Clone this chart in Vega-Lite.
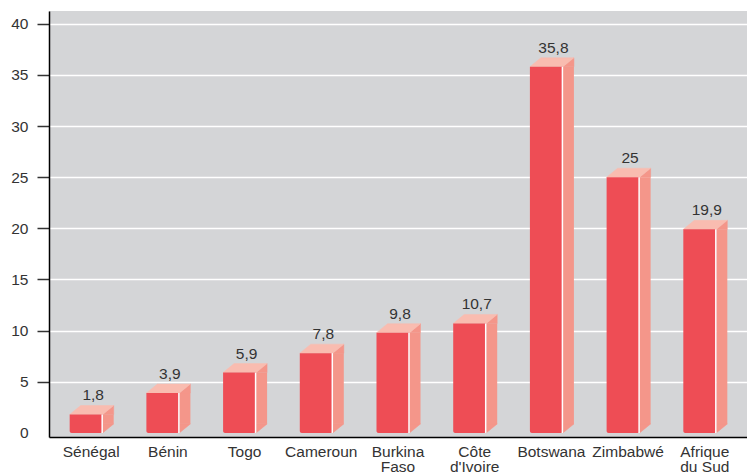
{
  "$schema": "https://vega.github.io/schema/vega-lite/v6.json",
  "width": 698,
  "height": 426,
  "autosize": {"type": "none"},
  "padding": {"left": 49, "top": 11, "right": 0, "bottom": 35},
  "background": "white",
  "view": {"fill": "#d4d5d7", "stroke": null},
  "config": {
    "font": "Liberation Sans",
    "locale": {
      "number": {"decimal": ",", "thousands": " ", "grouping": [3], "currency": ["", " €"]}
    }
  },
  "data": {
    "values": [
      {"pays": "Sénégal", "taux": 1.8},
      {"pays": "Bénin", "taux": 3.9},
      {"pays": "Togo", "taux": 5.9},
      {"pays": "Cameroun", "taux": 7.8},
      {"pays": "Burkina\nFaso", "taux": 9.8},
      {"pays": "Côte\nd'Ivoire", "taux": 10.7},
      {"pays": "Botswana", "taux": 35.8},
      {"pays": "Zimbabwé", "taux": 25},
      {"pays": "Afrique\ndu Sud", "taux": 19.9}
    ]
  },
  "encoding": {
    "x": {
      "field": "pays",
      "type": "nominal",
      "sort": null,
      "scale": {"paddingInner": 0, "paddingOuter": 0.05},
      "axis": {
        "title": null,
        "labelAngle": 0,
        "ticks": false,
        "tickSize": 0,
        "domainColor": "#000000",
        "domainWidth": 1.5,
        "labelPadding": 7,
        "labelFontSize": 15.5,
        "labelColor": "#333333",
        "labelLineHeight": 15,
        "labelLimit": 0,
        "labelExpr": "split(datum.label, '\\n')"
      }
    },
    "y": {
      "field": "taux",
      "type": "quantitative",
      "scale": {"domain": [-0.4, 41.25], "nice": false, "zero": false},
      "axis": {
        "title": null,
        "values": [0, 5, 10, 15, 20, 25, 30, 35, 40],
        "grid": true,
        "gridColor": "#ffffff",
        "gridWidth": 1.5,
        "gridOpacity": {"condition": {"test": "datum.value === 0", "value": 0}, "value": 1},
        "tickSize": 12,
        "tickColor": "#333333",
        "tickWidth": 1.5,
        "tickOpacity": {"condition": {"test": "datum.value === 0", "value": 0}, "value": 1},
        "domainColor": "#000000",
        "domainWidth": 1.5,
        "labelPadding": 9,
        "labelFontSize": 15.5,
        "labelColor": "#333333"
      }
    }
  },
  "layer": [
    {
      "mark": {"type": "bar", "width": 11, "xOffset": 17, "y2Offset": -9, "fill": "#f4968a"},
      "encoding": {"y2": {"datum": 0}}
    },
    {
      "mark": {"type": "point", "shape": "M11.5,0 L22.5,-9 L22.5,0 Z", "size": 4, "filled": true, "fill": "#f4968a", "stroke": "#f4968a", "strokeWidth": 0.5, "opacity": 1}
    },
    {
      "mark": {"type": "point", "shape": "M11.5,-9 L22.5,-9 L11.5,0 Z", "size": 4, "filled": true, "fill": "#f4968a", "stroke": "#f4968a", "strokeWidth": 0.5, "opacity": 1},
      "encoding": {"y": {"datum": 0}}
    },
    {
      "mark": {"type": "point", "shape": "M-21.5,0 L11.5,0 L22.5,-9 L-10.5,-9 Z", "size": 4, "filled": true, "fill": "#f9bcb0", "stroke": "#f9bcb0", "strokeWidth": 0.5, "opacity": 1}
    },
    {
      "mark": {"type": "bar", "width": 33, "xOffset": -5, "fill": "#ee4d55", "cornerRadiusBottomLeft": 2, "cornerRadiusBottomRight": 2},
      "encoding": {"y2": {"datum": 0}}
    },
    {
      "mark": {"type": "rule", "xOffset": 11, "stroke": "#ffffff", "strokeWidth": 1.5},
      "encoding": {"y2": {"datum": 0}}
    },
    {
      "mark": {"type": "text", "dx": 2, "dy": -14, "baseline": "alphabetic", "align": "center", "fontSize": 15.5, "fill": "#333333"},
      "encoding": {"text": {"field": "taux", "type": "quantitative", "format": ".3~g"}}
    }
  ]
}
